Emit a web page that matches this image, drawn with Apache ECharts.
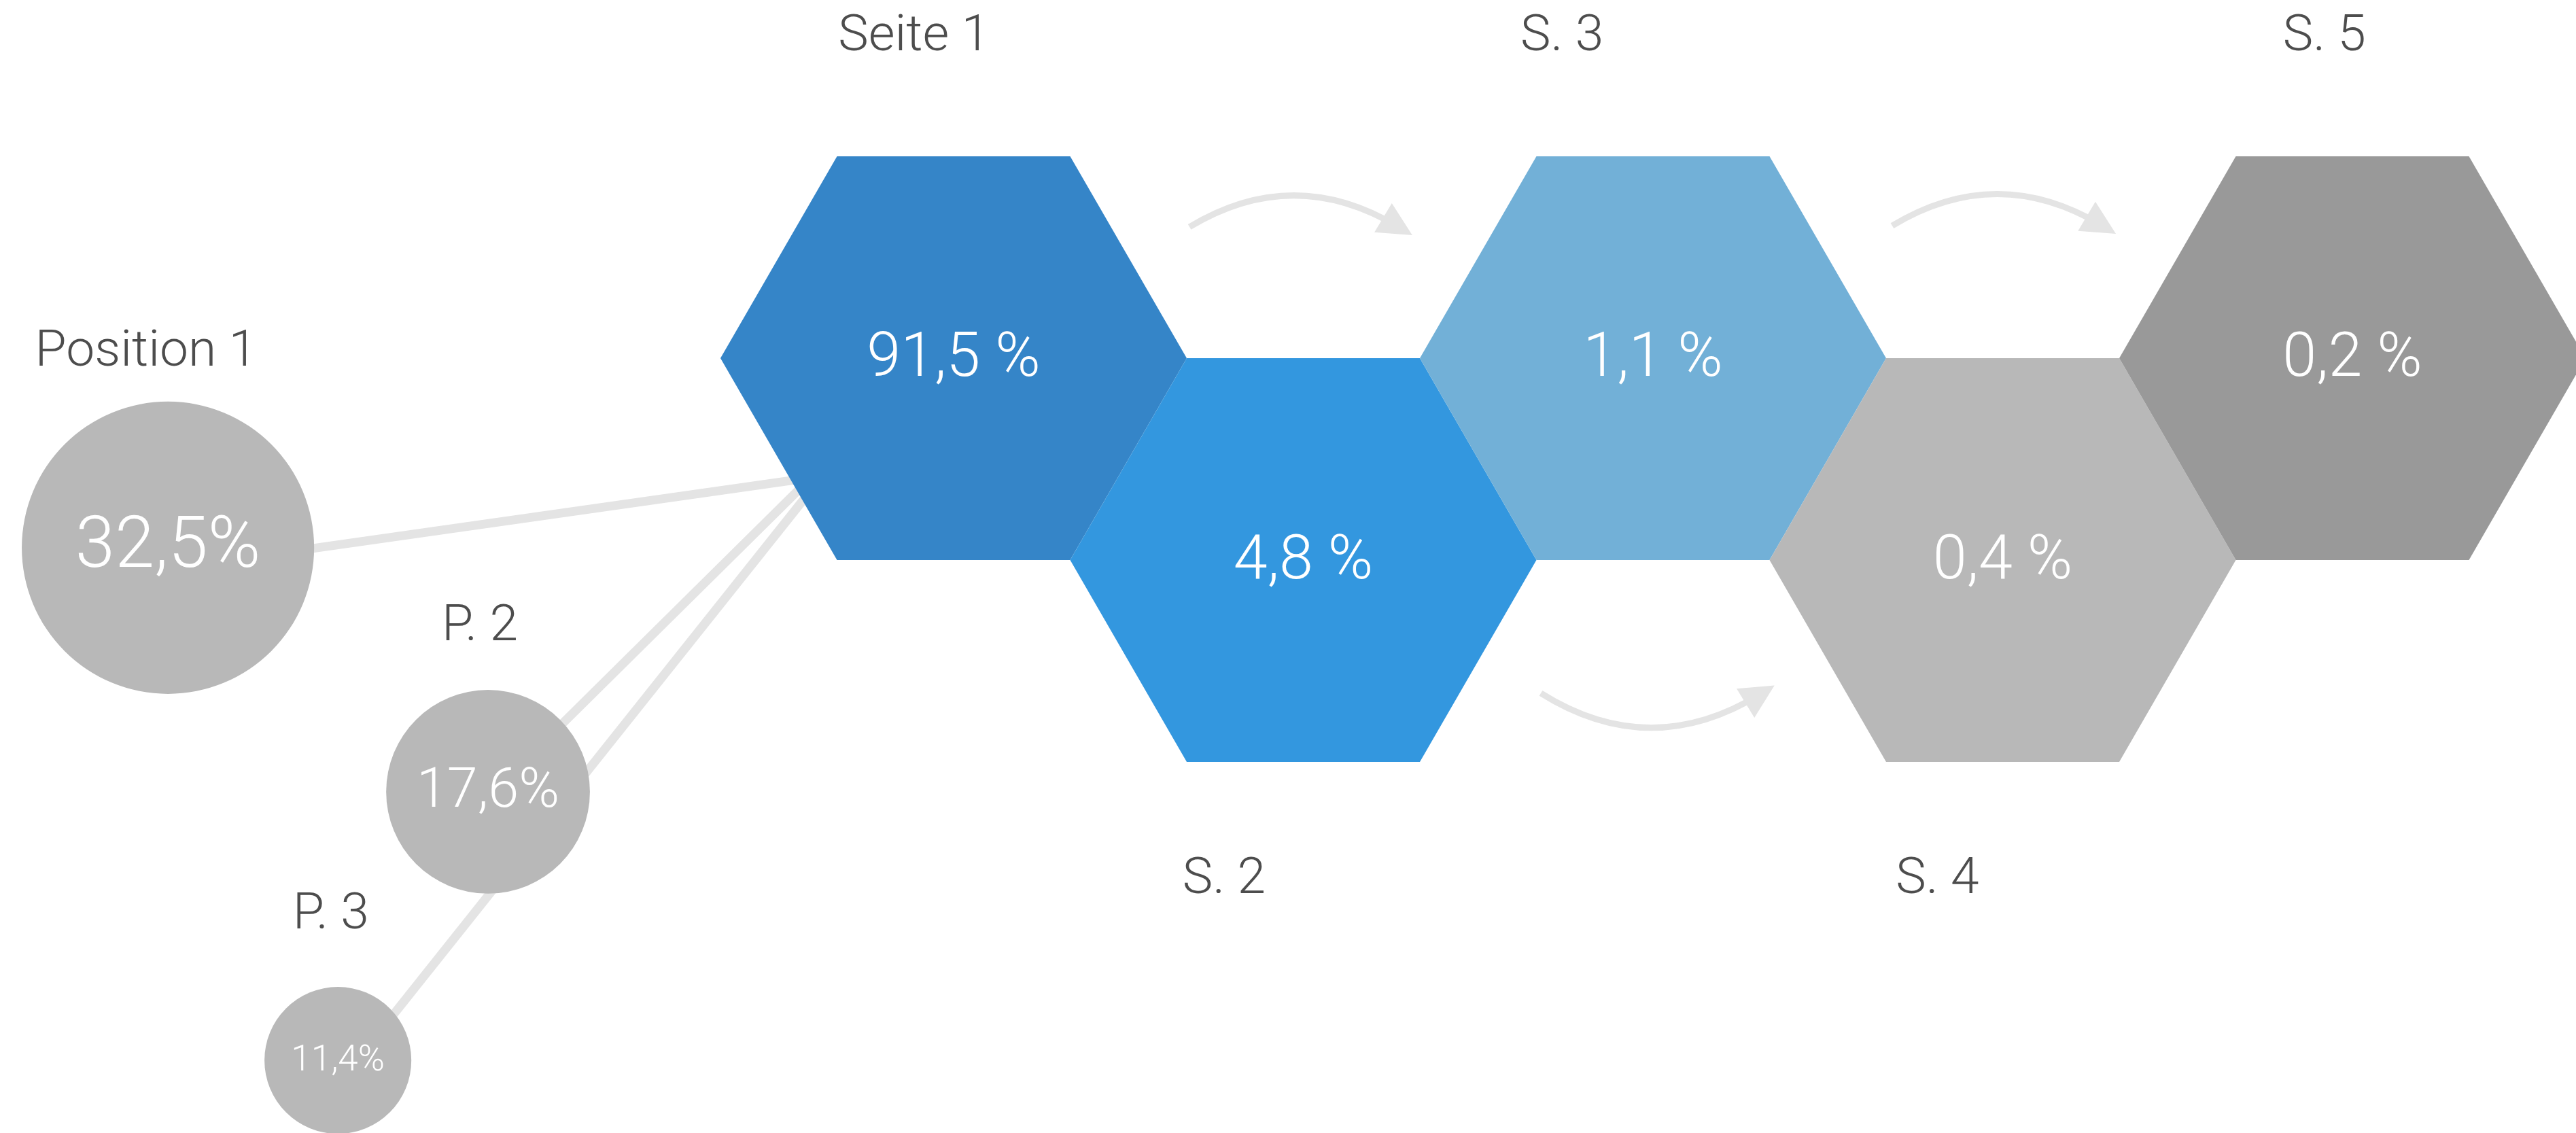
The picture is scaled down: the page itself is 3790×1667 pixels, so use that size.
<!DOCTYPE html>
<html>
<head>
<meta charset="utf-8">
<title>Seiten</title>
<script src="https://cdn.jsdelivr.net/npm/echarts@6/dist/echarts.min.js"></script>
<style>
html, body { margin: 0; padding: 0; background: #fff; }
#main { width: 3790px; height: 1667px; }
</style>
</head>
<body>
<div id="main"></div>
<script>
// Seiten (Sechsecke)
var pageNames = ['Seite 1', 'S. 2', 'S. 3', 'S. 4', 'S. 5'];
var pageValues = [91.5, 4.8, 1.1, 0.4, 0.2];
var pageColors = ['#3585c8', '#3397df', '#72b0d7', '#b8b8b8', '#999999'];

// Positionen (Kreise)
var posNames = ['Position 1', 'P. 2', 'P. 3'];
var posValues = [32.5, 17.6, 11.4];

// Layout, in Einheiten des Sechseck-Radius
var nameShift = [-0.17, -0.34, -0.39, -0.28, -0.12];
var posLayout = [ // x, y, r, Name x, Name y, Schriftgroesse
	[-3.370, 0.813, 0.627, -3.464, -0.023, 105],
	[-1.997, 1.860, 0.437, -2.032, 1.155, 81],
	[-2.641, 3.012, 0.315, -2.671, 2.391, 53]
];
var links = [
	[[-3.370, 0.904], [-0.592, 0.510]],
	[[-1.997, 1.883], [-0.592, 0.493]],
	[[-2.545, 2.994], [-0.592, 0.542]]
];
var arrows = [ // von, nach, Kruemmung
	[[1.012, -0.563], [1.905, -0.565], 0.3],
	[[4.026, -0.568], [4.923, -0.571], 0.3],
	[[2.519, 1.437], [3.459, 1.442], -0.31]
];

var font = 'Roboto, "Helvetica Neue", Arial, sans-serif';
var grey = '#e4e4e4';

function fmt(v, space) {
	return v.toFixed(1).replace('.', ',') + (space ? ' %' : '%');
}

var hexData = pageValues.map(function (v, i) {
	return [1.5 * i, (i % 2) * Math.sqrt(3) / 2, v];
});

function renderHex(params, api) {
	var i = params.dataIndex;
	var x = api.value(0), y = api.value(1);
	var c = api.coord([x, y]);
	var r = api.size([1, 0])[0];
	var pts = [];
	for (var k = 0; k < 6; k++) {
		var a = Math.PI / 3 * k;
		pts.push([c[0] + r * Math.cos(a), c[1] + r * Math.sin(a)]);
	}
	var lp = api.coord([x + nameShift[i], y + (i % 2 ? 1.375 : -1.375)]);
	return {
		type: 'group',
		children: [{
			type: 'polygon',
			shape: { points: pts },
			style: { fill: pageColors[i] }
		}, {
			type: 'text',
			style: {
				text: fmt(api.value(2), true), x: c[0], y: c[1] + 4,
				align: 'center', verticalAlign: 'middle',
				fill: '#fff', fontSize: 90, fontFamily: font, fontWeight: 300
			}
		}, {
			type: 'text',
			style: {
				text: pageNames[i], x: lp[0], y: lp[1],
				align: 'center', verticalAlign: 'middle',
				fill: '#4d4d4d', fontSize: 75, fontFamily: font, fontWeight: 300
			}
		}]
	};
}

function renderPos(params, api) {
	var i = params.dataIndex;
	var L = posLayout[i];
	var c = api.coord([L[0], L[1]]);
	var r = api.size([L[2], 0])[0];
	var lp = api.coord([L[3], L[4]]);
	return {
		type: 'group',
		children: [{
			type: 'circle',
			shape: { cx: c[0], cy: c[1], r: r },
			style: { fill: '#b8b8b8' }
		}, {
			type: 'text',
			style: {
				text: fmt(api.value(0), false), x: c[0], y: c[1] + 2,
				align: 'center', verticalAlign: 'middle',
				fill: '#fff', fontSize: L[5], fontFamily: font, fontWeight: 300
			}
		}, {
			type: 'text',
			style: {
				text: posNames[i], x: lp[0], y: lp[1],
				align: 'center', verticalAlign: 'middle',
				fill: '#4d4d4d', fontSize: 75, fontFamily: font, fontWeight: 300
			}
		}]
	};
}

var myChart = echarts.init(document.getElementById('main'));

option = {
	animation: false,
	grid: { left: 0, right: 0, top: 0, bottom: 0 },
	xAxis: { type: 'value', min: -4.0904, max: 6.9592, show: false },
	yAxis: { type: 'value', min: -1.5364, max: 3.3236, inverse: true, show: false },
	series: [{
		type: 'lines',
		coordinateSystem: 'cartesian2d',
		z: 1,
		silent: true,
		symbol: ['none', 'none'],
		lineStyle: { color: grey, width: 13, opacity: 1 },
		data: links.map(function (l) { return { coords: l }; })
	}, {
		type: 'lines',
		coordinateSystem: 'cartesian2d',
		z: 1,
		silent: true,
		symbol: ['none', 'triangle'],
		symbolSize: 50,
		lineStyle: { color: grey, width: 9, opacity: 1 },
		data: arrows.map(function (a) {
			return { coords: [a[0], a[1]], lineStyle: { curveness: a[2] } };
		})
	}, {
		type: 'custom',
		z: 2,
		silent: true,
		renderItem: renderHex,
		data: hexData
	}, {
		type: 'custom',
		z: 2,
		silent: true,
		renderItem: renderPos,
		data: posValues.map(function (v) { return [v]; })
	}]
};

myChart.setOption(option);
</script>
</body>
</html>
